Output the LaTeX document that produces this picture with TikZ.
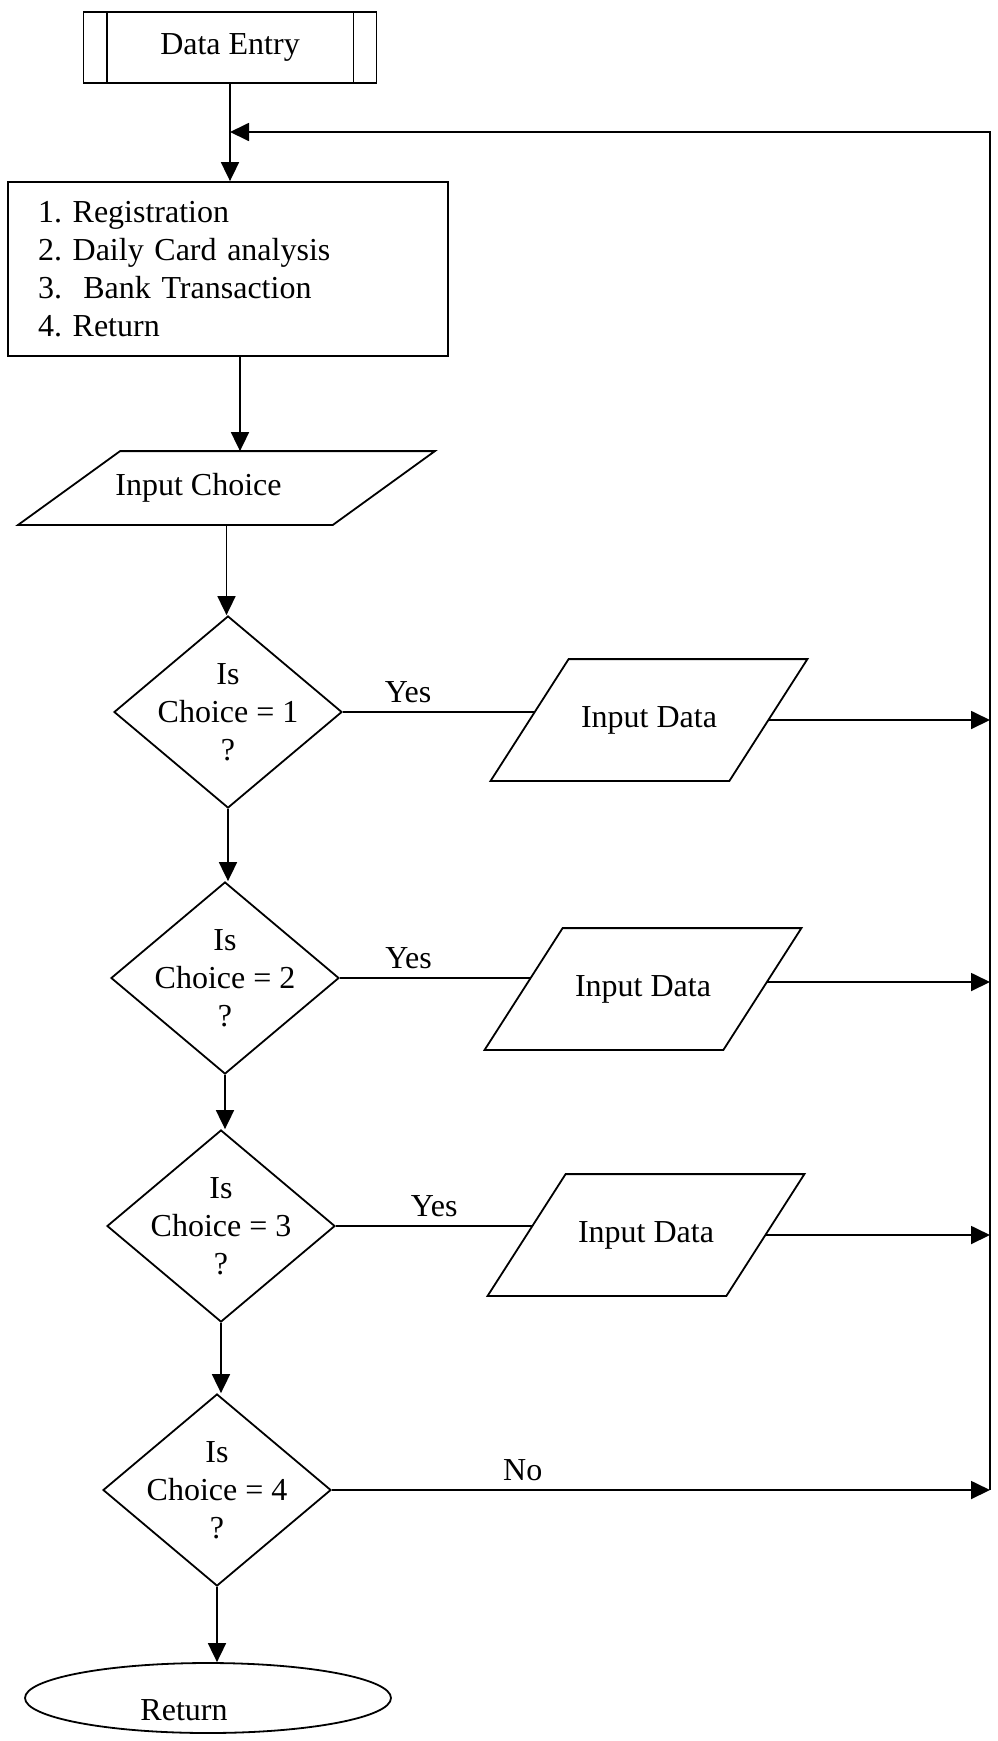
\documentclass[tikz,border=0pt]{standalone}
\usepackage{fontspec}
\setmainfont{Liberation Serif}
\usetikzlibrary{shapes.geometric,arrows.meta}

\tikzset{
  box/.style={draw, rectangle, minimum width=293pt, minimum height=71pt, inner sep=0pt},
  menu/.style={draw, rectangle, minimum width=440pt, minimum height=174pt, text width=380pt, align=left, inner xsep=30pt, inner ysep=0pt},
  io/.style={rectangle, minimum width=237pt, minimum height=120pt, inner sep=0pt},
  decision/.style={draw, diamond, minimum width=228pt, minimum height=192pt, inner sep=0pt},
  term/.style={draw, ellipse, minimum width=366pt, minimum height=70pt, inner sep=0pt},
  lbl/.style={above, inner sep=8pt}
}

\begin{document}
\begin{tikzpicture}[x=1pt, y=-1pt, line width=1.8pt, font=\fontsize{32}{38}\selectfont\frenchspacing,
    arr/.style={-{Triangle[length=19pt,width=18pt]}}]
  \useasboundingbox (0,0) rectangle (997,1741);

  % Start and menu
  \node[box] (entry) at (230,47.5) {Data Entry};
  \draw ([xshift=24pt]entry.north west) -- ([xshift=24pt]entry.south west);
  \draw ([xshift=-24pt]entry.north east) -- ([xshift=-24pt]entry.south east);
  \node[menu] (menu) at (228,269) {1. Registration\\2. Daily Card analysis\\3.\ \ Bank Transaction\\4. Return};
  \node[io, minimum width=313pt, minimum height=72pt] (choice) at (226.5,488) {Input Choice\hspace*{56pt}};
  \draw ([xshift=51pt]choice.north west) -- ([xshift=51pt]choice.north east)
     -- ([xshift=-51pt]choice.south east) -- ([xshift=-51pt]choice.south west) -- cycle;

  % Decisions
  \foreach \n/\x/\y in {1/228/712, 2/225/978, 3/221/1226, 4/217/1490} {
    \node[decision, label={[align=center]center:Is\\Choice = \n\\?}] (d\n) at (\x,\y) {};
  }

  % Input Data boxes
  \foreach \n/\x/\y in {1/649/720, 2/643/989, 3/646/1235} {
    \node[io] (p\n) at (\x,\y) {Input Data};
    \draw ([xshift=39pt]p\n.north west) -- ([xshift=39pt]p\n.north east)
       -- ([xshift=-39pt]p\n.south east) -- ([xshift=-39pt]p\n.south west) -- cycle;
  }

  \node[term, label={[xshift=-24pt, yshift=-12pt]center:Return}] (ret) at (208,1698) {};
  \coordinate (loop) at (990,132);

  % Connectors
  \draw[arr] (entry.south) -- (entry.south |- menu.north);
  \draw[arr] ([xshift=12pt]menu.south) -- ([xshift=12pt]menu.south |- choice.north);
  \draw[arr] (choice.south) -- (choice.south |- d1.north);
  \foreach \a/\b in {1/2, 2/3, 3/4}
    \draw[arr] (d\a.south) -- (d\a.south |- d\b.north);
  \draw[arr] (d4.south) -- (d4.south |- ret.north);
  \foreach \n/\dx/\ps in {1/5/0.34, 2/7/0.36, 3/6/0.5}
    \draw (d\n.east) -- node[lbl, pos=\ps] {Yes} ([xshift=\dx pt]d\n.east -| p\n.west);
  \foreach \n/\dx/\dy in {1/0/0, 2/5/7, 3/0/0}
    \draw[arr] ([xshift=\dx pt, yshift=\dy pt]p\n.east) -- ([yshift=\dy pt]p\n.east -| loop);
  \draw[arr] (d4.east) -- node[lbl, pos=0.29] {No} (d4.east -| loop);
  \draw[arr] (d4.east -| loop) -- (loop) -- (entry.south |- loop);
\end{tikzpicture}
\end{document}
